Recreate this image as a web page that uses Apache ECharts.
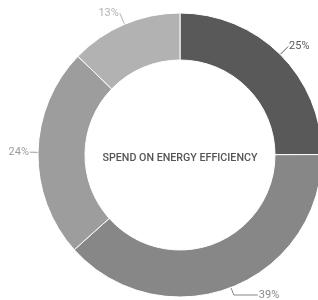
<!DOCTYPE html>
<html><head><meta charset="utf-8">
<script src="https://cdn.jsdelivr.net/npm/echarts@6/dist/echarts.min.js"></script>
<style>html,body{margin:0;padding:0;background:#fff}#c{width:318px;height:300px}</style>
</head><body><div id="c"></div>
<script>
const categories = ['A', 'B', 'C', 'D'];
const values = [25, 38.5, 23.9, 12.8];
const colors = ['#595959', '#878787', '#9d9d9d', '#b2b2b2'];
const centerText = 'SPEND ON ENERGY EFFICIENCY';

const lineLen = [11, 8, 6, 12];
const lineLen2 = [0, 24, 2, 0];

const chart = echarts.init(document.getElementById('c'), null, {renderer: 'canvas'});
chart.setOption({
  animation: false,
  graphic: [{
    type: 'text', x: 180, y: 158,
    style: {text: centerText, fill: '#555', font: '500 10.7px Roboto', textAlign: 'center', textVerticalAlign: 'middle'}
  }],
  series: [{
    type: 'pie',
    center: [180, 155],
    radius: [95, 142],
    startAngle: 90,
    clockwise: true,
    avoidLabelOverlap: false,
    itemStyle: {borderColor: '#fff', borderWidth: 1},
    label: {
      show: true, position: 'outside',
      formatter: p => Math.round(p.value) + '%',
      fontFamily: 'Roboto', fontSize: 11, color: 'inherit', distanceToLabelLine: 1
    },
    labelLine: {show: true, length: 10, length2: 3, lineStyle: {width: 1}},
    data: categories.map((c, i) => ({
      name: c, value: values[i], itemStyle: {color: colors[i]},
      labelLine: {length: lineLen[i], length2: lineLen2[i]}
    }))
  }]
});
</script></body></html>
